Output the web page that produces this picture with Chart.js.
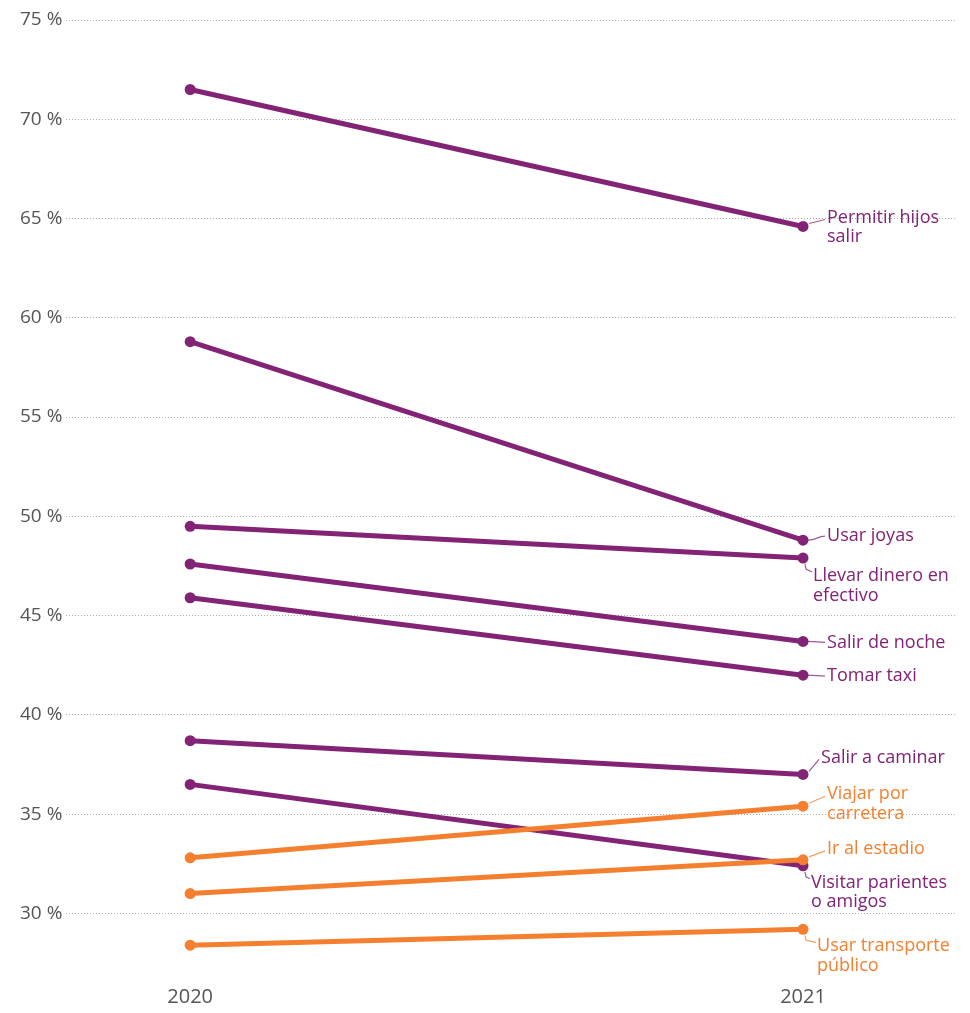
<!DOCTYPE html>
<html>
<head>
<meta charset="utf-8">
<script src="https://cdn.jsdelivr.net/npm/chart.js@4/dist/chart.umd.min.js"></script>
<style>
  html, body { margin: 0; padding: 0; background: #fff; }
  #wrap { width: 970px; height: 1013px; }
</style>
</head>
<body>
<div id="wrap"><canvas id="chart" width="970" height="1013"></canvas></div>
<script>
const years = [2020, 2021];
const yTicks = [30, 35, 40, 45, 50, 55, 60, 65, 70, 75];

const categories = [
  "Permitir hijos salir",
  "Usar joyas",
  "Llevar dinero en efectivo",
  "Salir de noche",
  "Tomar taxi",
  "Salir a caminar",
  "Viajar por carretera",
  "Ir al estadio",
  "Visitar parientes o amigos",
  "Usar transporte público"
];
const labelLines = [
  ["Permitir hijos", "salir"],
  ["Usar joyas"],
  ["Llevar dinero en", "efectivo"],
  ["Salir de noche"],
  ["Tomar taxi"],
  ["Salir a caminar"],
  ["Viajar por", "carretera"],
  ["Ir al estadio"],
  ["Visitar parientes", "o amigos"],
  ["Usar transporte", "público"]
];
const values2020 = [71.5, 58.8, 49.5, 47.6, 45.9, 38.7, 32.8, 31.0, 36.5, 28.4];
const values2021 = [64.6, 48.8, 47.9, 43.7, 42.0, 37.0, 35.4, 32.7, 32.4, 29.2];
const groups = ["m", "m", "m", "m", "m", "m", "o", "o", "m", "o"];

const PURPLE = "#832375";
const ORANGE = "#f47f2e";

// label placement relative to the 2021 point: [dx, dy of first line]
const labelPos = [
  [24, -9], [24, -4], [10, 18], [24, 1], [24, 1],
  [18, -17], [24, -12], [24, -11], [8, 17], [14, 17]
];

const datasets = categories.map((c, i) => {
  const col = groups[i] === "o" ? ORANGE : PURPLE;
  return {
    label: c,
    data: [{ x: years[0], y: values2020[i] }, { x: years[1], y: values2021[i] }],
    borderColor: col,
    backgroundColor: col,
    pointBackgroundColor: col,
    borderWidth: 5,
    pointRadius: 5.5,
    pointHoverRadius: 5.5,
    pointBorderWidth: 0,
    order: groups[i] === "o" ? 0 : 1
  };
});

const endLabels = {
  id: "endLabels",
  afterDatasetsDraw(chart) {
    const ctx = chart.ctx;
    ctx.save();
    ctx.font = "18px 'Open Sans', sans-serif";
    ctx.textBaseline = "middle";
    ctx.textAlign = "left";
    chart.data.datasets.forEach((ds, i) => {
      const pt = chart.getDatasetMeta(i).data[1];
      const px = pt.x, py = pt.y;
      const lx = px + labelPos[i][0];
      const ly = py + labelPos[i][1];
      ctx.strokeStyle = ds.borderColor;
      ctx.globalAlpha = 0.75;
      ctx.lineWidth = 1.2;
      ctx.beginPath();
      if (Math.abs(ly - py) < 6) {
        ctx.moveTo(px + 5, py);
        ctx.bezierCurveTo(lx - 10, py, lx - 10, ly, lx - 2, ly);
      } else if (ly > py) {
        ctx.moveTo(px + 2, py + 6);
        ctx.lineTo(px + 3, py + 11);
        ctx.lineTo(lx - 1, ly - 4);
      } else {
        ctx.moveTo(px + 6, py - 3);
        ctx.lineTo(lx - 2, ly + 2);
      }
      ctx.stroke();
      ctx.globalAlpha = 1;
      ctx.fillStyle = ds.borderColor;
      labelLines[i].forEach((t, k) => ctx.fillText(t, lx, ly + k * 19.5));
    });
    ctx.restore();
  }
};

new Chart(document.getElementById("chart"), {
  type: "line",
  data: { datasets },
  options: {
    responsive: false,
    animation: false,
    layout: { padding: { top: 20, right: 15, left: 16, bottom: 0 } },
    plugins: { legend: { display: false }, tooltip: { enabled: false } },
    scales: {
      x: {
        type: "linear",
        min: 2019.798,
        max: 2021.248,
        afterBuildTicks: (s) => { s.ticks = years.map(v => ({ value: v })); },
        ticks: {
          callback: (v) => String(v),
          color: "#555",
          font: { family: "'Open Sans', sans-serif", size: 20 },
          padding: 4
        },
        grid: { display: false },
        border: { display: false }
      },
      y: {
        min: 27,
        max: 75,
        afterBuildTicks: (s) => { s.ticks = yTicks.map(v => ({ value: v })); },
        ticks: {
          callback: (v) => v + " %",
          color: "#555",
          font: { family: "'Open Sans', sans-serif", size: 19 },
          padding: 4
        },
        grid: { color: "#aaa", lineWidth: 1, drawTicks: false },
        border: { display: false, dash: [1, 2] }
      }
    }
  },
  plugins: [endLabels]
});
</script>
</body>
</html>
